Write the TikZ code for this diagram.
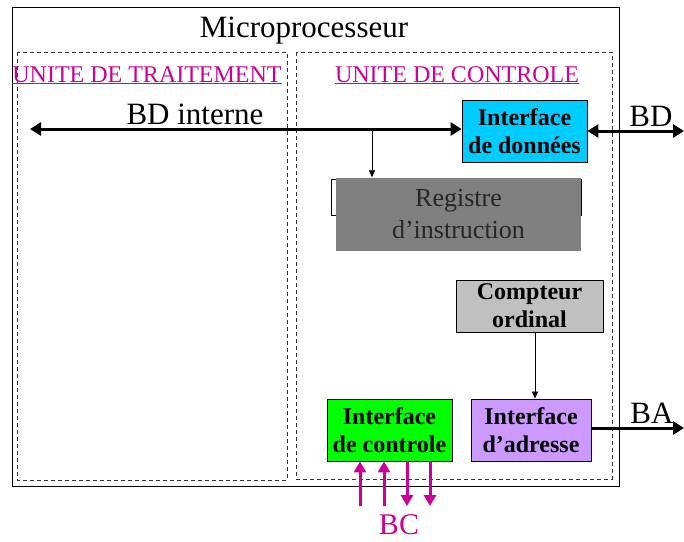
\documentclass[tikz,border=0pt]{standalone}
\usepackage{fontspec}
\setmainfont{Liberation Serif}
\usetikzlibrary{arrows.meta}
\definecolor{magbus}{HTML}{CC0099}
\definecolor{cyanbox}{HTML}{00CCFF}
\definecolor{greenbox}{HTML}{00FF00}
\definecolor{purplebox}{HTML}{CC99FF}
\definecolor{regbox}{HTML}{808080}
\definecolor{cptbox}{HTML}{C0C0C0}
\tikzset{
  unitbox/.style={draw=black!80, line width=0.9pt, dash pattern=on 4pt off 3pt},
  unitlabel/.style={text=magbus, font=\fontsize{24}{28}\selectfont},
  blockbox/.style={draw=black, line width=0.8pt, align=center, inner sep=0pt,
    font=\fontsize{24}{28}\selectfont\bfseries},
  bigtext/.style={font=\fontsize{31}{34}\selectfont},
  bus/.style={line width=3pt, {Triangle[length=11pt,width=13pt]}-{Triangle[length=11pt,width=13pt]}},
  busout/.style={line width=3pt, -{Triangle[length=11pt,width=13pt]}},
  thinarrow/.style={line width=0.7pt, -{Triangle[length=7pt,width=6pt]}},
  ctrlbus/.style={line width=3pt, draw=magbus, -{Triangle[length=11pt,width=12pt]}},
}
\begin{document}
\begin{tikzpicture}[x=1pt,y=-1pt]
\useasboundingbox (0,0) rectangle (684,541);

% processor frame and its two units
\draw[line width=1pt] (12,7) rectangle (619,486);
\draw[unitbox] (17,52) rectangle (287,480);
\draw[unitbox] (296,52) rectangle (612,479);

\node[bigtext] (title) at (304,31) {Microprocesseur};
\node[unitlabel, anchor=base] (ut) at (147,82) {\underline{UNITE DE TRAITEMENT}};
\node[unitlabel, anchor=base] (uc) at (457,82) {\underline{UNITE DE CONTROLE}};

% blocks of the control unit
\node[blockbox, fill=cyanbox, minimum width=125pt, minimum height=62pt] (idata) at (524.5,131) {Interface\\de données};
\draw[line width=0.8pt, fill=white] (331,179) rectangle (581,215);
\node[fill=regbox, minimum width=245pt, minimum height=73pt, inner sep=0pt, align=center,
      text=black!85, font=\fontsize{26}{32}\selectfont] (reg) at (458.5,214) {Registre\\d’instruction};
\node[blockbox, fill=cptbox, minimum width=147pt, minimum height=52pt] (cpt) at (529.5,306) {Compteur\\ordinal};
\node[blockbox, fill=purplebox, minimum width=120pt, minimum height=62pt] (iadr) at (531,430) {Interface\\d’adresse};
\node[blockbox, fill=greenbox, minimum width=125pt, minimum height=62pt] (ictl) at (389.5,430) {Interface\\de controle};

% internal data bus
\coordinate (bdl) at (30,129);
\draw[bus] (bdl) -- (bdl -| idata.west);
\node[bigtext, anchor=base] (bdint) at (195,124) {BD interne};
\coordinate (tap) at (372,129);
\draw[thinarrow] (tap) -- (tap |- reg.north);

% external data bus
\coordinate (bdr) at (684,131);
\draw[bus] (idata.east) -- (bdr);
\node[bigtext, anchor=base] (bd) at (651,126) {BD};

% program counter to address interface, address bus
\draw[thinarrow] (cpt.south -| 535,0) -- (iadr.north -| 535,0);
\coordinate (bar) at (684,428);
\draw[busout] (iadr.east |- bar) -- (bar);
\node[bigtext, anchor=base] (ba) at (652,423) {BA};

% control bus
\foreach \x/\n in {360/a,384/b,407/c,430/d} {
  \coordinate (bc\n) at (\x,506);
}
\draw[ctrlbus] (bca) -- (bca |- ictl.south);
\draw[ctrlbus] (bcb) -- (bcb |- ictl.south);
\draw[ctrlbus] (bcc |- ictl.south) -- (bcc);
\draw[ctrlbus] (bcd |- ictl.south) -- (bcd);
\node[font=\fontsize{30}{32}\selectfont, text=magbus, anchor=base] (bc) at (399,534) {BC};
\end{tikzpicture}
\end{document}
